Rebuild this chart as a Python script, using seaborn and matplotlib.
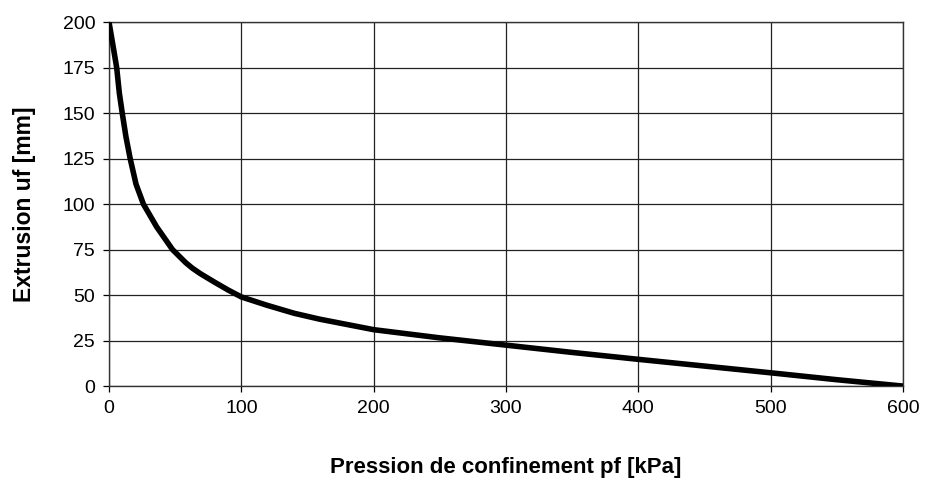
import matplotlib
matplotlib.use("Agg")
import matplotlib.pyplot as plt
import seaborn as sns
import pandas as pd

pression = [0, 2.8, 5.8, 7.8, 10, 12.8, 16, 20.4, 26, 36, 48, 58, 63, 69, 80, 90, 100, 119, 140, 159,
            200, 250, 300, 350, 400, 450, 500, 550, 600]
extrusion = [200, 188, 175, 161, 150, 137, 125, 111, 100, 87.5, 75, 67.8, 64.8, 61.8, 57, 52.8, 49, 44.5, 40, 36.8,
             31, 26.5, 22.5, 18.5, 14.7, 11, 7.3, 3.5, 0]
xticks = [0, 100, 200, 300, 400, 500, 600]
yticks = [0, 25, 50, 75, 100, 125, 150, 175, 200]

sns.set_theme(style="white")
plt.rcParams['font.family'] = ['Liberation Sans', 'DejaVu Sans']

df = pd.DataFrame({"p": pression, "u": extrusion})

fig = plt.figure(figsize=(9.27, 4.82), dpi=100)
ax = fig.add_axes([0.1176, 0.199, 0.9741 - 0.1176, 0.954 - 0.199])
sns.lineplot(data=df, x="p", y="u", ax=ax, color="black", linewidth=4.0, zorder=3)
ax.lines[0].set_solid_joinstyle("round")

ax.set_xlim(0, 600)
ax.set_ylim(0, 200)
ax.set_xticks(xticks)
ax.set_yticks(yticks)
ax.grid(True, color="#222222", linewidth=0.9)
for s in ax.spines.values():
    s.set_color("#333333")
    s.set_linewidth(1.0)
ax.tick_params(axis="both", which="major", labelsize=14, colors="black",
               direction="out", length=4, width=0.9, left=True, bottom=True, pad=6)
ax.set_xlabel("Pression de confinement pf [kPa]", fontsize=16, fontweight="bold",
              labelpad=29, color="black")
ax.set_ylabel("Extrusion uf [mm]", fontsize=16.5, fontweight="bold",
              labelpad=19, color="black")

fig.savefig("out.png", dpi=100)
